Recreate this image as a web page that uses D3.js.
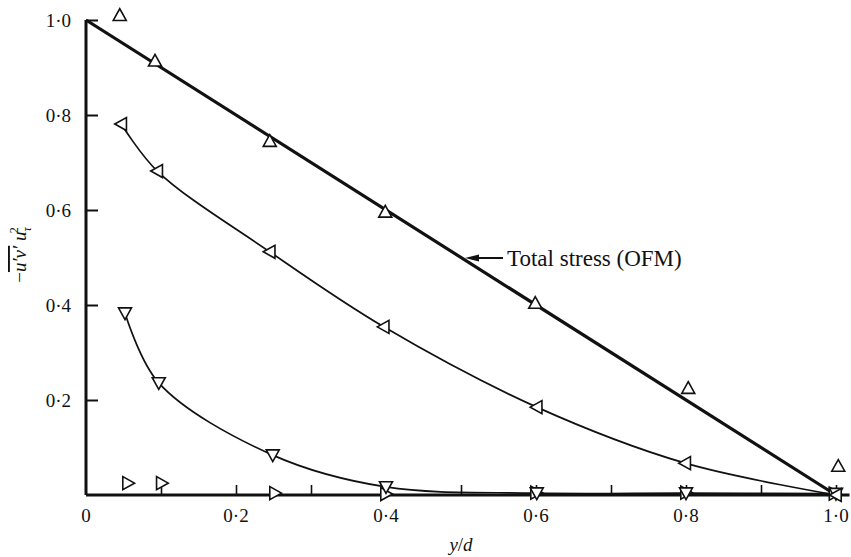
<!DOCTYPE html>
<html>
<head>
<meta charset="utf-8">
<script src="https://cdn.jsdelivr.net/npm/d3@7"></script>
<style>
  body { margin: 0; background: #fff; }
  text { font-family: "Liberation Serif", "DejaVu Serif", serif; fill: #111; }
</style>
</head>
<body>
<div id="chart"></div>
<script>
// --- Data ---
const xTickValues = [0.1, 0.2, 0.3, 0.4, 0.5, 0.6, 0.7, 0.8, 0.9, 1.0];
const xTickLabels = ["0", "0·2", "0·4", "0·6", "0·8", "1·0"];
const xLabelValues = [0, 0.2, 0.4, 0.6, 0.8, 1.0];
const yTickValues = [0.2, 0.4, 0.6, 0.8, 1.0];
const yTickLabels = ["0·2", "0·4", "0·6", "0·8", "1·0"];

// total stress (OFM) straight line
const totalStressLine = [[0, 1.0], [1.0, 0]];
// measured points (y/d, -u'v'/u_tau^2)
const upPoints = [[0.045, 1.01], [0.092, 0.914], [0.245, 0.745], [0.399, 0.596], [0.599, 0.404], [0.803, 0.225], [1.003, 0.061]];
const leftPoints = [[0.047, 0.781], [0.095, 0.682], [0.245, 0.512], [0.397, 0.354], [0.601, 0.185], [0.799, 0.067], [1.0, 0.0]];
const downPoints = [[0.052, 0.383], [0.097, 0.236], [0.249, 0.084], [0.4, 0.017], [0.601, 0.004], [0.8, 0.004], [1.0, 0.003]];
const rightPoints = [[0.056, 0.025], [0.101, 0.025], [0.252, 0.004], [0.4, 0.002], [0.6, 0.005], [0.8, 0.005], [0.998, 0.003]];

const dims = { width: 851, height: 557, margin: { top: 20, right: 15, bottom: 62, left: 86 } };
const W = 750, H = 475;

const svg = d3.select("#chart").append("svg")
    .attr("width", dims.width)
    .attr("height", dims.height);
const g = svg.append("g")
    .attr("transform", `translate(${dims.margin.left},${dims.margin.top})`);

const x = d3.scaleLinear().domain([0, 1]).range([0, W]);
const y = d3.scaleLinear().domain([0, 1]).range([H, 0]);

// --- axes ---
const xAxis = g.append("g")
    .attr("transform", `translate(0,${H})`)
    .call(d3.axisBottom(x).tickValues(xTickValues).tickSize(-10).tickFormat(""));
xAxis.select(".domain").remove();
xAxis.selectAll(".tick line").attr("stroke", "#111").attr("stroke-width", 1.6);

g.append("g").selectAll("text")
    .data(xLabelValues)
    .join("text")
    .attr("x", d => x(d))
    .attr("y", H + 27)
    .attr("text-anchor", "middle")
    .style("font-size", "19px")
    .text((d, i) => xTickLabels[i]);

const yAxis = g.append("g")
    .call(d3.axisLeft(y).tickValues(yTickValues).tickSize(-12).tickPadding(15)
        .tickFormat((d, i) => yTickLabels[i]));
yAxis.select(".domain").remove();
yAxis.selectAll(".tick line").attr("stroke", "#111").attr("stroke-width", 2);
yAxis.selectAll(".tick text")
    .style("font-size", "19px")
    .style("font-family", "'Liberation Serif', serif")
    .attr("fill", "#111");

// axis lines
g.append("line")
    .attr("x1", x(0)).attr("x2", x(0))
    .attr("y1", y(1.0)).attr("y2", y(0))
    .attr("stroke", "#111").attr("stroke-width", 3);
g.append("line")
    .attr("x1", x(0)).attr("x2", x(1.018))
    .attr("y1", y(0)).attr("y2", y(0))
    .attr("stroke", "#111").attr("stroke-width", 3);

// --- lines ---
const line = d3.line().x(d => x(d[0])).y(d => y(d[1]));
const curve = d3.line().x(d => x(d[0])).y(d => y(d[1])).curve(d3.curveCatmullRom.alpha(0.5));

g.append("path")
    .datum(totalStressLine)
    .attr("d", line)
    .attr("fill", "none")
    .attr("stroke", "#111")
    .attr("stroke-width", 3.2);

[leftPoints, downPoints].forEach(pts => {
    g.append("path")
        .datum(pts)
        .attr("d", curve)
        .attr("fill", "none")
        .attr("stroke", "#111")
        .attr("stroke-width", 1.7);
});

// --- markers: open triangles ---
const s = 6.5;
const triPaths = {
    up:    `M0,${-s} L${s},${s * 0.8} L${-s},${s * 0.8} Z`,
    down:  `M0,${s} L${s},${-s * 0.8} L${-s},${-s * 0.8} Z`,
    left:  `M${-s},0 L${s * 0.8},${-s} L${s * 0.8},${s} Z`,
    right: `M${s},0 L${-s * 0.8},${-s} L${-s * 0.8},${s} Z`
};
const series = [
    { pts: rightPoints, shape: "right" },
    { pts: downPoints, shape: "down" },
    { pts: leftPoints, shape: "left" },
    { pts: upPoints, shape: "up" }
];
series.forEach(sr => {
    g.append("g").selectAll("path")
        .data(sr.pts)
        .join("path")
        .attr("transform", d => `translate(${x(d[0])},${y(d[1])})`)
        .attr("d", triPaths[sr.shape])
        .attr("fill", "#fff")
        .attr("stroke", "#111")
        .attr("stroke-width", 1.6);
});

// --- annotation ---
const annY = 258 - dims.margin.top;
const annX0 = x(0.5) + 4;
g.append("line")
    .attr("x1", annX0 + 38).attr("x2", annX0 + 8)
    .attr("y1", annY).attr("y2", annY)
    .attr("stroke", "#111").attr("stroke-width", 2);
g.append("path")
    .attr("d", `M${annX0},${annY} L${annX0 + 14},${annY - 3.5} L${annX0 + 14},${annY + 3.5} Z`)
    .attr("fill", "#111");
g.append("text")
    .attr("x", annX0 + 42)
    .attr("y", annY + 8)
    .style("font-size", "23px")
    .text("Total stress (OFM)");

// --- axis titles ---
const xt = svg.append("text")
    .attr("x", dims.margin.left + x(0.5))
    .attr("y", 551)
    .attr("text-anchor", "middle")
    .style("font-size", "19px")
    .style("font-style", "italic");
xt.append("tspan").text("y");
xt.append("tspan").style("font-style", "normal").text("/");
xt.append("tspan").text("d");

const yt = svg.append("text")
    .attr("transform", "translate(26,255) rotate(-90)")
    .attr("text-anchor", "middle")
    .style("font-size", "19px");
yt.append("tspan").text("−");
yt.append("tspan").style("font-style", "italic").style("text-decoration", "overline").text("u′v′");
yt.append("tspan").text(" ");
yt.append("tspan").style("font-style", "italic").text("u");
yt.append("tspan").attr("dy", 5).style("font-size", "12px").style("font-style", "italic").text("τ");
yt.append("tspan").attr("dx", -6).attr("dy", -13).style("font-size", "12px").text("2");
</script>
</body>
</html>
